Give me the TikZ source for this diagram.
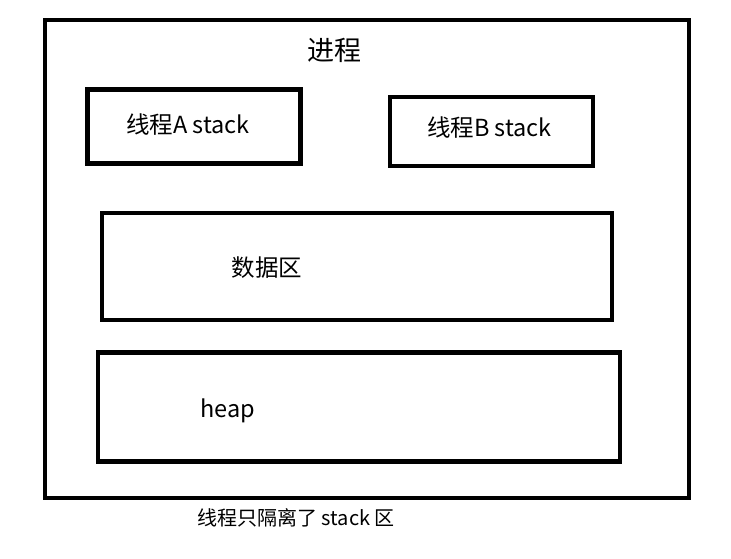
\documentclass[tikz,border=0pt]{standalone}
\usepackage{fontspec}
\setmainfont{Noto Sans CJK SC}
\begin{document}
\begin{tikzpicture}[x=1pt,y=-1pt,
  box/.style={draw=black,line width=4.6pt,inner sep=0pt,outer sep=0pt},
  lbl/.style={inner sep=0pt,font=\fontsize{23.5}{28}\selectfont}]
\useasboundingbox (0,0) rectangle (731,559);
\node[box,minimum width=644pt,minimum height=478pt] (proc) at (367,259) {};
\node[inner sep=0pt,font=\fontsize{27}{31}\selectfont] (proct) at (334.5,50) {进程};
\node[box,minimum width=213pt,minimum height=74pt] (a) at (194,126.5) {};
\node[lbl] (at) at (188,125) {线程A stack};
\node[box,minimum width=203pt,minimum height=69pt] (b) at (491.5,131.5) {};
\node[lbl] (bt) at (489.5,128) {线程B stack};
\node[box,minimum width=510pt,minimum height=107pt] (d) at (357,266.5) {};
\node[lbl] (dt) at (267,268) {数据区};
\node[box,minimum width=522pt,minimum height=109pt] (h) at (359,407) {};
\node[lbl] (ht) at (228,411) {heap};
\node[inner sep=0pt,font=\fontsize{20}{24}\selectfont] (cap) at (296,518) {线程只隔离了 stack 区};
\end{tikzpicture}
\end{document}
